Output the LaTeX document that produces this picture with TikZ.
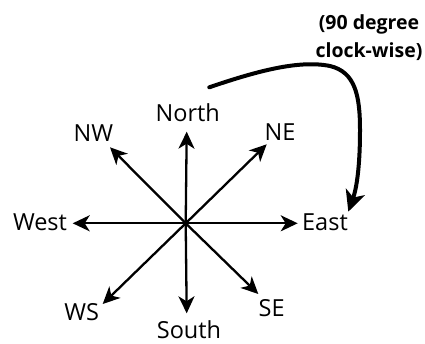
\documentclass[tikz,border=0pt]{standalone}
\usepackage{fontspec}
\setmainfont{Open Sans}
\usepackage{tikz}
\usetikzlibrary{arrows.meta}
\tikzset{>={Stealth[length=17pt,width=16pt,inset=5pt]}}
\tikzstyle{dir} = [inner sep=0pt, font=\fontsize{23.5}{26}\selectfont]
\tikzstyle{ray} = [->, line width=2.3pt]
\tikzstyle{turn} = [->, line width=4pt, line cap=round, >={Stealth[length=21pt,width=20pt,inset=6pt]}]

\begin{document}
\begin{tikzpicture}[x=1pt,y=-1pt]
\useasboundingbox (0,0) rectangle (425,343);
\coordinate (O) at (185.7,223.3);
% labels
\node [dir] (North) at (187.7,112.7) {North};
\node [dir] (NE) at (280,131.7) {NE};
\node [dir] (NW) at (93.3,133.3) {NW};
\node [dir] (West) at (40,222.7) {West};
\node [dir] (East) at (325,222.7) {East};
\node [dir] (WS) at (81.7,311.7) {WS};
\node [dir] (South) at (189,330) {South};
\node [dir] (SE) at (271.7,308.3) {SE};
\node [inner sep=0pt, align=center, font=\bfseries\fontsize{19.5}{28}\selectfont] (note) at (369,38) {(90 degree\\clock-wise)};
% arrow tips
\coordinate (tN) at (186.7,131.7);
\coordinate (tS) at (186.7,313.3);
\coordinate (tW) at (72.7,223.3);
\coordinate (tE) at (297.7,223.3);
\coordinate (tNE) at (266.7,144.3);
\coordinate (tNW) at (110,147.3);
\coordinate (tSE) at (258.3,294);
\coordinate (tWS) at (102.7,304);
\draw [ray] (O) -- (tN);
\draw [ray] (O) -- (tS);
\draw [ray] (O) -- (tW);
\draw [ray] (O) -- (tE);
\draw [ray] (O) -- (tNE);
\draw [ray] (O) -- (tNW);
\draw [ray] (O) -- (tSE);
\draw [ray] (O) -- (tWS);
% turn
\coordinate (from) at (209.3,87.3);
\coordinate (to) at (348.3,211.7);
\draw [turn] (from) .. controls (260,70) and (300,60) .. (330,66)
  .. controls (355,72) and (360,95) .. (360,130)
  .. controls (360,170) and (356,190) .. (to);
\end{tikzpicture}
\end{document}
